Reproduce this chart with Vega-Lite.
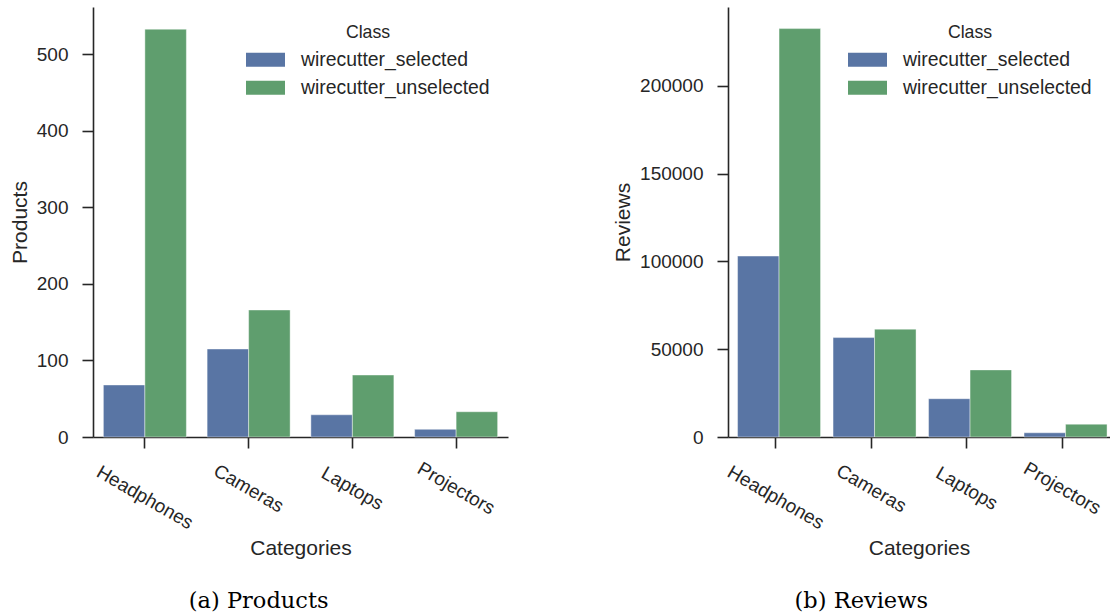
{
  "$schema": "https://vega.github.io/schema/vega-lite/v6.json",
  "padding": {"top": 7, "left": 9, "right": 0, "bottom": 0},
  "background": "white",
  "data": {
    "values": [
      {"category": "Headphones", "cls": "wirecutter_selected", "products": 68, "reviews": 103000},
      {"category": "Headphones", "cls": "wirecutter_unselected", "products": 533, "reviews": 232500},
      {"category": "Cameras", "cls": "wirecutter_selected", "products": 115, "reviews": 56600},
      {"category": "Cameras", "cls": "wirecutter_unselected", "products": 166, "reviews": 61400},
      {"category": "Laptops", "cls": "wirecutter_selected", "products": 29, "reviews": 21800},
      {"category": "Laptops", "cls": "wirecutter_unselected", "products": 81, "reviews": 38200},
      {"category": "Projectors", "cls": "wirecutter_selected", "products": 10, "reviews": 2400},
      {"category": "Projectors", "cls": "wirecutter_unselected", "products": 33, "reviews": 7300}
    ]
  },
  "spacing": 104,
  "hconcat": [
    {
      "width": 415,
      "height": 430,
      "title": {"text": "(a) Products"},
      "mark": {"type": "bar", "stroke": "#ffffff", "strokeWidth": 0.6, "strokeOpacity": 0.7},
      "encoding": {
        "x": {"field": "category", "type": "nominal", "sort": null, "title": "Categories",
              "scale": {"paddingInner": 0.2, "paddingOuter": 0.1}},
        "xOffset": {"field": "cls", "type": "nominal", "scale": {"paddingInner": 0, "paddingOuter": 0}},
        "y": {"field": "products", "type": "quantitative", "title": "Products",
              "scale": {"domain": [0, 562], "nice": false},
              "axis": {"values": [0, 100, 200, 300, 400, 500], "format": "d"}},
        "color": {"field": "cls", "type": "nominal", "title": "Class",
                  "scale": {"domain": ["wirecutter_selected", "wirecutter_unselected"], "range": ["#5975a4", "#5f9e6e"]},
                  "legend": {"orient": "none", "legendX": 153, "legendY": 17}}
      }
    },
    {
      "width": 382,
      "height": 430,
      "title": {"text": "(b) Reviews"},
      "mark": {"type": "bar", "stroke": "#ffffff", "strokeWidth": 0.6, "strokeOpacity": 0.7},
      "encoding": {
        "x": {"field": "category", "type": "nominal", "sort": null, "title": "Categories",
              "scale": {"paddingInner": 0.2, "paddingOuter": 0.1}},
        "xOffset": {"field": "cls", "type": "nominal", "scale": {"paddingInner": 0, "paddingOuter": 0}},
        "y": {"field": "reviews", "type": "quantitative", "title": "Reviews",
              "scale": {"domain": [0, 244800], "nice": false},
              "axis": {"values": [0, 50000, 100000, 150000, 200000], "format": "d"}},
        "color": {"field": "cls", "type": "nominal", "title": "Class",
                  "scale": {"domain": ["wirecutter_selected", "wirecutter_unselected"], "range": ["#5975a4", "#5f9e6e"]},
                  "legend": {"orient": "none", "legendX": 120, "legendY": 17}}
      }
    }
  ],
  "resolve": {"scale": {"color": "independent", "x": "independent", "y": "independent"}, "legend": {"color": "independent"}},
  "config": {
    "view": {"stroke": null},
    "font": "Liberation Sans",
    "title": {
      "orient": "bottom", "frame": "bounds", "anchor": "middle",
      "font": "DejaVu Serif", "fontSize": 22.5, "fontWeight": "normal", "color": "#000000", "offset": 31
    },
    "axis": {
      "domainColor": "#262626", "domainWidth": 1.6,
      "tickColor": "#262626", "tickWidth": 1.6, "tickSize": 11,
      "labelFont": "Liberation Sans", "labelFontSize": 19, "labelColor": "#262626",
      "titleFont": "Liberation Sans", "titleFontSize": 21, "titleFontWeight": "normal", "titleColor": "#262626",
      "grid": false
    },
    "axisY": {"labelPadding": 14, "titlePadding": 6},
    "axisX": {
      "labelAngle": 30, "labelAlign": "center", "labelBaseline": "middle",
      "labelPadding": {"condition": {"test": "datum.value === 'Headphones'", "value": 49}, "value": 40},
      "titlePadding": 5
    },
    "legend": {
      "titleAnchor": "middle", "titleFont": "Liberation Sans", "titleFontSize": 17.7, "titleFontWeight": "normal", "titleColor": "#262626",
      "labelFont": "Liberation Sans", "labelFontSize": 19.4, "labelColor": "#262626", "labelLimit": 400,
      "symbolType": "M-1,-0.36H1V0.36H-1Z", "symbolSize": 1521, "symbolStrokeWidth": 0, "symbolOpacity": 1,
      "labelOffset": 16, "padding": 0, "titlePadding": 6, "rowPadding": 4, "clipHeight": 24
    }
  }
}
